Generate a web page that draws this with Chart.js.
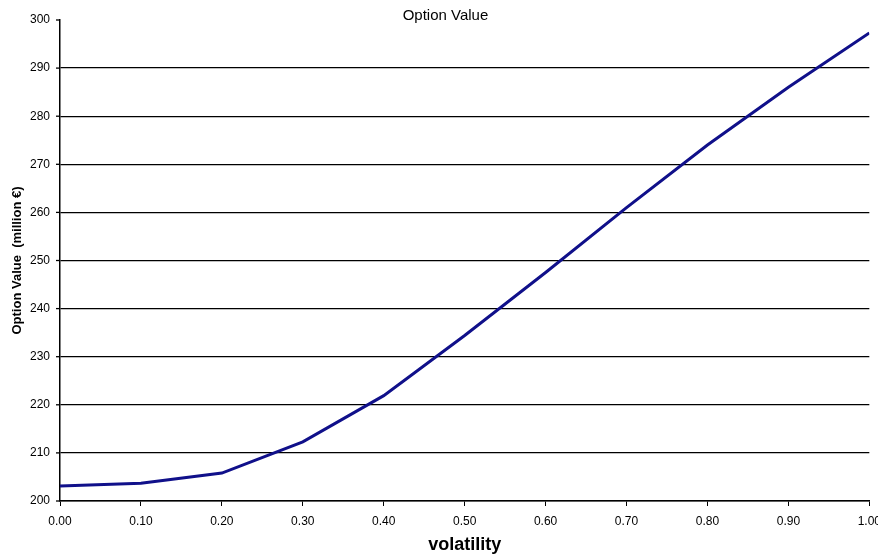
<!DOCTYPE html>
<html>
<head>
<meta charset="utf-8">
<script src="https://cdn.jsdelivr.net/npm/chart.js@4/dist/chart.umd.min.js"></script>
<style>
  html, body { margin: 0; padding: 0; background: #fff; overflow: hidden; }
  #wrap { width: 878px; height: 557px; overflow: hidden; }
</style>
</head>
<body>
<div id="wrap"><canvas id="myChart" width="889" height="557"></canvas></div>
<script>
const volatility = [0.0, 0.1, 0.2, 0.3, 0.4, 0.5, 0.6, 0.7, 0.8, 0.9, 1.0];
const optionValue = [203.1, 203.7, 205.8, 212.3, 221.9, 234.4, 247.5, 261.0, 274.0, 286.0, 297.3];

const font = "'Liberation Sans', Arial, sans-serif";

new Chart(document.getElementById("myChart"), {
  type: "scatter",
  data: {
    datasets: [
      {
        label: "Option Value",
        data: volatility.map((v, i) => ({ x: v, y: optionValue[i] })),
        showLine: true,
        borderColor: "#10108a",
        borderWidth: 3,
        pointRadius: 0,
        tension: 0,
        fill: false,
      },
    ],
  },
  options: {
    responsive: false,
    animation: false,
    layout: { padding: { top: 0, right: 0, left: 2, bottom: 1 } },
    plugins: {
      legend: { display: false },
      tooltip: { enabled: false },
      title: {
        display: true,
        text: "Option Value",
        color: "#000",
        font: { family: font, size: 15, weight: "normal" },
        padding: { top: 7, bottom: -5 },
      },
    },
    scales: {
      x: {
        type: "linear",
        min: 0,
        max: 1,
        ticks: {
          stepSize: 0.1,
          color: "#000",
          font: { family: font, size: 12 },
          callback: (v) => v.toFixed(2),
          padding: 8,
          maxRotation: 0,
        },
        grid: { drawOnChartArea: false, drawTicks: true, tickLength: 5, color: "#000", lineWidth: 1 },
        border: { color: "#000", width: 1.5 },
        title: {
          display: true,
          text: "volatility",
          color: "#000",
          font: { family: font, size: 18, weight: "bold" },
          padding: { top: -2, bottom: 0 },
        },
      },
      y: {
        min: 200,
        max: 300,
        afterFit: (scale) => { scale.width = 58; },
        ticks: {
          stepSize: 10,
          color: "#000",
          font: { family: font, size: 12 },
          padding: 10,
        },
        grid: {
          color: (ctx) => (ctx.tick && ctx.tick.value === 300 ? "rgba(0,0,0,0)" : "#000"),
          lineWidth: 1.3,
          drawTicks: false,
        },
        border: { color: "#000", width: 1.5 },
        title: {
          display: true,
          text: "Option Value  (million €)",
          color: "#000",
          font: { family: font, size: 13, weight: "bold" },
          padding: { top: 8, bottom: 2 },
        },
      },
    },
  },
  plugins: [
    {
      // short tick marks left of the y axis, including the top one
      id: "yTickMarks",
      afterDraw(chart) {
        const { ctx, scales } = chart;
        const y = scales.y;
        ctx.save();
        ctx.strokeStyle = "#000";
        ctx.lineWidth = 1.3;
        y.ticks.forEach((t) => {
          const py = y.getPixelForValue(t.value);
          ctx.beginPath();
          ctx.moveTo(y.right - 4, py);
          ctx.lineTo(y.right, py);
          ctx.stroke();
        });
        ctx.restore();
      },
    },
  ],
});
</script>
</body>
</html>
